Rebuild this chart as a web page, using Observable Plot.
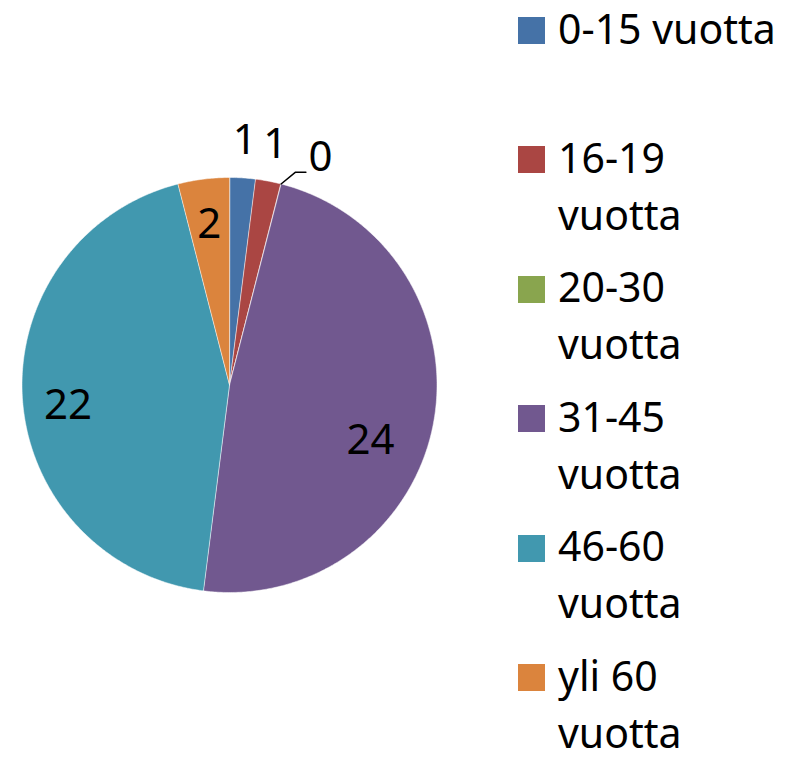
<!DOCTYPE html>
<html>
<head>
<meta charset="utf-8">
<script src="https://cdn.jsdelivr.net/npm/d3@7"></script>
<script src="https://cdn.jsdelivr.net/npm/@observablehq/plot@0.6"></script>
<style>
  html, body { margin: 0; padding: 0; background: #fff; }
  #wrap { position: relative; width: 800px; height: 761px; font-family: "Noto Sans", sans-serif; }
  #wrap svg { position: absolute; left: 0; top: 0; }
  .legend { position: absolute; left: 518px; top: 17px; }
  .item { position: absolute; left: 0; width: 275px; height: 129px; }
  .sw { position: absolute; left: 0; top: 0; width: 27px; height: 27px; }
  .lab { position: absolute; left: 40px; top: -17.4px; width: 225px; font-size: 41px; line-height: 57px; color: #000; }
</style>
</head>
<body>
<div id="wrap"></div>
<script>
const categories = ["0-15 vuotta", "16-19 vuotta", "20-30 vuotta", "31-45 vuotta", "46-60 vuotta", "yli 60 vuotta"];
const values = [1, 1, 0, 24, 22, 2];
const colors = ["#4572A7", "#AA4643", "#89A54E", "#71588F", "#4198AF", "#DB843D"];

// label placement tweaks (pixels), kept apart from the data
const labelNudge = {"31-45 vuotta": [-18, 25], "46-60 vuotta": [0, 10]};

const total = d3.sum(values);
const arcs = d3.pie().sort(null)(values);
const pt = (a, r) => ({x: Math.sin(a) * r, y: Math.cos(a) * r});

// slice polygons (data units, unit circle)
const slices = [];
arcs.forEach((a, i) => {
  const c = categories[i];
  slices.push({category: c, x: 0, y: 0});
  const n = Math.max(2, Math.ceil((a.endAngle - a.startAngle) / (Math.PI / 360)));
  for (let k = 0; k <= n; k++) {
    const t = a.startAngle + (a.endAngle - a.startAngle) * k / n;
    slices.push({category: c, ...pt(t, 1)});
  }
});

// labels
const labels = [];
const leaders = [];
let prevOut = null;
const deg = Math.PI / 180;
arcs.forEach((a, i) => {
  const mid = (a.startAngle + a.endAngle) / 2;
  const c = categories[i];
  if (values[i] / total >= 0.03) {
    labels.push({category: c, text: String(values[i]), ...pt(mid, 0.78)});
  } else {
    let ang = mid;
    let moved = false;
    if (prevOut !== null && ang - prevOut < 7 * deg) { ang = prevOut + 11 * deg; moved = true; }
    prevOut = ang;
    const p = pt(ang, 1.18);
    labels.push({category: c, text: String(values[i]), ...p});
    if (moved) {
      const s = pt(mid, 1);
      const e = {x: p.x - 0.07, y: p.y - 0.07};
      const el = {x: e.x - 0.05, y: e.y};
      [s, el, e].forEach(q => leaders.push({id: c, ...q}));
    }
  }
});

const textOpts = {x: "x", y: "y", text: "text", fontSize: 42, fontFamily: "Noto Sans", fill: "#000", lineAnchor: "middle", textAnchor: "middle"};
const textMarks = [
  Plot.text(labels.filter(d => !labelNudge[d.category]), textOpts),
  ...Object.entries(labelNudge).map(([c, [dx, dy]]) =>
    Plot.text(labels.filter(d => d.category === c), {...textOpts, dx, dy}))
];

const plot = Plot.plot({
  width: 800,
  height: 761,
  margin: 0,
  x: {domain: [-1, 1], range: [21.5, 436.5], axis: null},
  y: {domain: [-1, 1], range: [592, 177], axis: null},
  color: {domain: categories, range: colors},
  marks: [
    Plot.line(slices, {x: "x", y: "y", z: "category", fill: "category", stroke: "#fff", strokeWidth: 1, strokeOpacity: 0.5, curve: "linear-closed"}),
    Plot.line(leaders, {x: "x", y: "y", z: "id", stroke: "#000", strokeWidth: 1.5}),
    ...textMarks
  ]
});

const wrap = document.getElementById("wrap");
wrap.appendChild(plot);

const legend = document.createElement("div");
legend.className = "legend";
categories.forEach((c, i) => {
  const it = document.createElement("div");
  it.className = "item";
  it.style.top = (i * 129.4) + "px";
  const sw = document.createElement("div");
  sw.className = "sw";
  sw.style.background = colors[i];
  const lab = document.createElement("div");
  lab.className = "lab";
  lab.textContent = c;
  it.appendChild(sw);
  it.appendChild(lab);
  legend.appendChild(it);
});
wrap.appendChild(legend);
</script>
</body>
</html>
